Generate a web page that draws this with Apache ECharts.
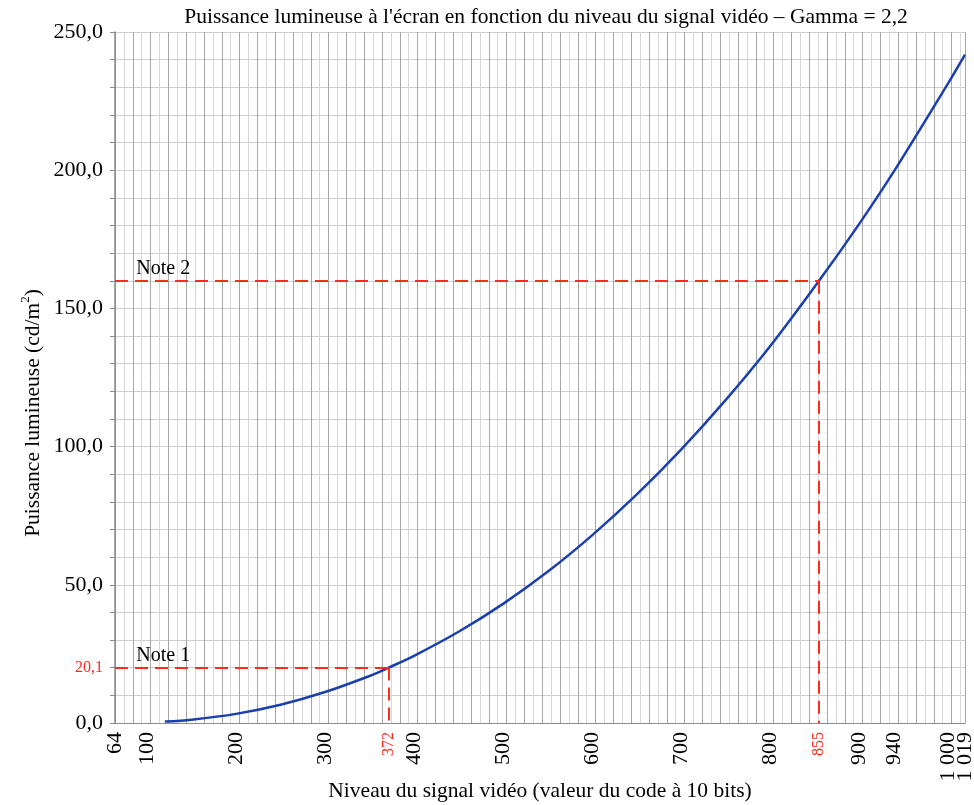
<!DOCTYPE html>
<html>
<head>
<meta charset="utf-8">
<script src="https://cdn.jsdelivr.net/npm/echarts@6/dist/echarts.min.js"></script>
<style>html,body{margin:0;padding:0;background:#fff}#c{width:974px;height:805px}</style>
</head>
<body>
<div id="c"></div>
<script>
// Signal level (10-bit code) and luminance (cd/m2)
var codes = [120, 150, 200, 250, 300, 350, 372, 400, 450, 500, 550, 600, 650, 700, 750, 800, 855, 900, 940, 1000, 1019];
var luminance = [0.5, 1.2, 3.3, 6.6, 11.2, 17.0, 20.1, 24.3, 33.0, 43.1, 54.7, 67.9, 82.6, 98.9, 116.8, 136.3, 160.0, 180.5, 200.0, 231.4, 241.8];
var xTickLabels = [64, 100, 200, 300, 372, 400, 500, 600, 700, 800, 855, 900, 940, 1000];
var xLastLabel = [1019];
var yTickLabels = [0, 20.1, 50, 100, 150, 200, 250];
var redX = [372, 855];
var redY = [20.1];
var notes = ['Note 1', 'Note 2'];
var noteCodes = [372, 855];
var noteLums = [20.1, 160.0];
var noteTextCode = 88;

var FONT = '"Liberation Serif", "Times New Roman", serif';
var RED = '#ff2a1a';

function fmtX(v) {
  var s = String(Math.round(v));
  if (s.length > 3) s = s.slice(0, s.length - 3) + ' ' + s.slice(-3);
  return redX.indexOf(v) >= 0 ? '{r|' + s + '}' : s;
}
function fmtY(v) {
  var r = Math.round(v * 10) / 10;
  var s = r.toFixed(1).replace('.', ',');
  return redY.indexOf(r) >= 0 ? '{r|' + s + '}' : s;
}

var dashLines = [];
noteCodes.forEach(function (c, i) {
  dashLines.push([{coord: [64, noteLums[i]]}, {coord: [c, noteLums[i]]}]);
  dashLines.push([{coord: [c, noteLums[i]]}, {coord: [c, 0]}]);
});

function labelAxis(values, withName) {
  var ax = {
    type: 'value', min: 64, max: 1019, position: 'bottom',
    axisLine: {show: false}, axisTick: {show: false}, splitLine: {show: false},
    axisLabel: {
      show: true, customValues: values, rotate: 90, margin: 9,
      hideOverlap: false, showMinLabel: true, showMaxLabel: true,
      fontFamily: FONT, fontSize: 22, color: '#000', formatter: fmtX,
      rich: {r: {color: RED, fontFamily: FONT, fontSize: 16}}
    }
  };
  if (withName) {
    ax.name = 'Niveau du signal vidéo (valeur du code à 10 bits)';
    ax.nameLocation = 'middle';
    ax.nameGap = 57;
    ax.nameMoveOverlap = false;
    ax.nameTextStyle = {fontFamily: FONT, fontSize: 21.5, color: '#000'};
  }
  return ax;
}

var chart = echarts.init(document.getElementById('c'));
chart.setOption({
  animation: false,
  backgroundColor: '#fff',
  title: {
    text: "Puissance lumineuse à l'écran en fonction du niveau du signal vidéo – Gamma = 2,2",
    left: 541, top: 1, textAlign: 'center',
    textStyle: {fontFamily: FONT, fontSize: 21.5, fontWeight: 'normal', color: '#000'}
  },
  grid: {left: 115, right: 9, top: 32, bottom: 82, outerBoundsMode: 'none', containLabel: false},
  xAxis: [{
    type: 'value', min: 64, max: 1019, interval: 10,
    axisLine: {show: true, lineStyle: {color: '#8a8a8a', width: 1}},
    axisTick: {show: false},
    axisLabel: {show: false},
    splitLine: {show: true, lineStyle: {color: ['#a6a6a6', '#d8d8d8'], width: 1}}
  }, labelAxis(xTickLabels, true), labelAxis(xLastLabel, false)],
  yAxis: [{
    type: 'value', min: 0, max: 250, interval: 10,
    axisLine: {show: true, lineStyle: {color: '#8a8a8a', width: 1.5}},
    axisTick: {show: true, length: 5, lineStyle: {color: '#8a8a8a'}},
    axisLabel: {show: false},
    splitLine: {show: true, lineStyle: {color: '#d0d0d0', width: 1}}
  }, {
    type: 'value', min: 0, max: 250, position: 'left',
    axisLine: {show: false}, axisTick: {show: false}, splitLine: {show: false},
    axisLabel: {
      show: true, customValues: yTickLabels, margin: 12,
      hideOverlap: false, showMinLabel: true, showMaxLabel: true,
      fontFamily: FONT, fontSize: 22, color: '#000', formatter: fmtY,
      rich: {r: {color: RED, fontFamily: FONT, fontSize: 16}}
    }
  }],
  series: [{
    type: 'line', xAxisIndex: 0, yAxisIndex: 0,
    data: codes.map(function (c, i) { return [c, luminance[i]]; }),
    smooth: 0.3, symbol: 'none', z: 3,
    lineStyle: {color: '#1a3fae', width: 2.5},
    markLine: {
      silent: true, symbol: 'none', animation: false,
      lineStyle: {color: RED, type: [13, 7], width: 2},
      label: {show: false},
      data: dashLines
    }
  }]
});

var graphics = [{
  type: 'text', x: 33, y: 413, rotation: Math.PI / 2,
  style: {
    text: '{a|Puissance lumineuse (cd/m}{s|2}{a|)}',
    align: 'center', verticalAlign: 'middle',
    rich: {
      a: {fontFamily: FONT, fontSize: 21.5, fill: '#000'},
      s: {fontFamily: FONT, fontSize: 13, fill: '#000', padding: [0, 0, 14, 0]}
    }
  }
}];
notes.forEach(function (n, i) {
  var p = chart.convertToPixel({xAxisIndex: 0, yAxisIndex: 0}, [noteTextCode, noteLums[i]]);
  graphics.push({
    type: 'text', x: p[0], y: p[1] - 2, z: 10,
    style: {text: n, fontFamily: FONT, fontSize: 20, fill: '#000', align: 'left', verticalAlign: 'bottom'}
  });
});
chart.setOption({graphic: graphics});
</script>
</body>
</html>
